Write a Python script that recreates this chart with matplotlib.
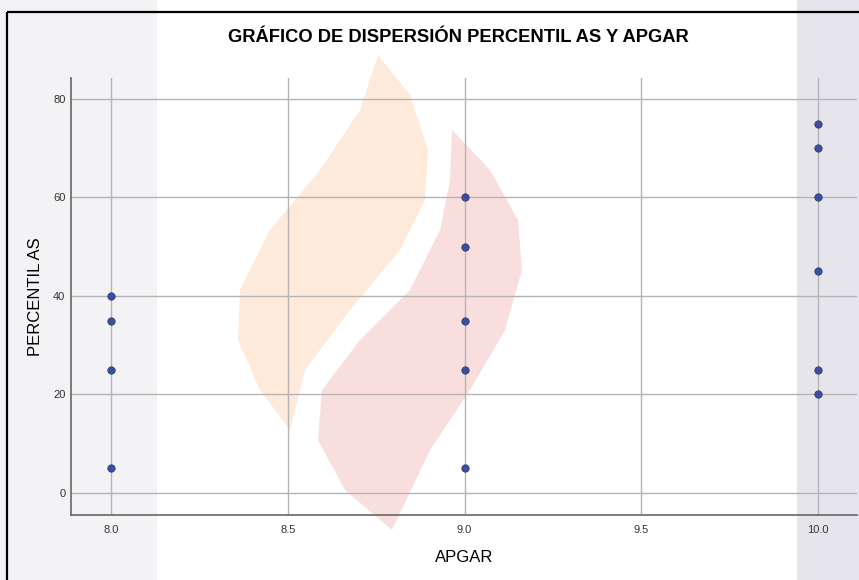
import numpy as np
import matplotlib.pyplot as plt
from matplotlib.patches import Rectangle, Polygon

# data
apgar = [8, 8, 8, 8,
         9, 9, 9, 9, 9,
         10, 10, 10, 10, 10, 10]
percentil_as = [5, 25, 35, 40,
                5, 25, 35, 50, 60,
                20, 25, 45, 60, 70, 75]

x_ticks = [8.0, 8.5, 9.0, 9.5, 10.0]
y_ticks = [0, 20, 40, 60, 80]

title = 'GRÁFICO DE DISPERSIÓN PERCENTIL AS Y APGAR'
x_label = 'APGAR'
y_label = 'PERCENTIL AS'

W, H = 859, 580
plt.rcParams['font.family'] = ['Liberation Sans', 'DejaVu Sans']

fig = plt.figure(figsize=(W / 100, H / 100), dpi=100)
fig.patch.set_facecolor('white')

# background layer in pixel coords (top-left origin) for the faint watermark
bg = fig.add_axes([0, 0, 1, 1], zorder=-1)
bg.set_xlim(0, W)
bg.set_ylim(H, 0)
bg.axis('off')

bg.add_patch(Rectangle((0, 0), 157, H, facecolor='#f3f3f6', edgecolor='none'))
bg.add_patch(Rectangle((797, 0), 62, H, facecolor='#e6e5ec', edgecolor='none'))
orange = [(378, 55), (410, 95), (428, 150), (425, 200), (400, 250), (350, 310),
          (305, 370), (290, 430), (260, 390), (238, 340), (240, 290), (270, 230),
          (320, 170), (360, 110)]
red = [(452, 130), (490, 170), (518, 220), (522, 270), (505, 330), (470, 390),
       (430, 450), (392, 530), (345, 490), (318, 440), (322, 390), (360, 340),
       (410, 290), (440, 230), (450, 180)]
bg.add_patch(Polygon(orange, closed=True, facecolor='#fdeadb', edgecolor='none'))
bg.add_patch(Polygon(red, closed=True, facecolor='#f9dede', edgecolor='none'))

# outer frame
bg.add_patch(Rectangle((7, 12), W, H, fill=False, edgecolor='black',
                       linewidth=1.6))

ax = fig.add_axes([71 / W, 65 / H, 786 / W, 437 / H], zorder=1)
ax.set_facecolor('none')

ax.scatter(apgar, percentil_as, s=28, color='#3d4f9c', edgecolors='#2e3a78',
           linewidths=0.6, zorder=3)

ax.set_xlim(7.887, 10.11)
ax.set_ylim(-4.47, 84.26)
ax.set_xticks(x_ticks)
ax.set_xticklabels([f'{v:.1f}' for v in x_ticks])
ax.set_yticks(y_ticks)
ax.tick_params(length=0, labelsize=8, colors='#333333', pad=4)
ax.tick_params(axis='x', pad=7)
ax.grid(True, color='#b4b4b4', linewidth=1)
ax.set_axisbelow(True)

for side in ['top', 'right']:
    ax.spines[side].set_visible(False)
for side in ['left', 'bottom']:
    ax.spines[side].set_color('#666666')
    ax.spines[side].set_linewidth(1.2)

ax.set_xlabel(x_label, fontsize=12, labelpad=11)
ax.set_ylabel(y_label, fontsize=12, labelpad=7)
fig.text(458 / W, 1 - 37 / H, title, fontsize=13.2, fontweight='bold',
         ha='center', va='center')

fig.savefig('out.png', dpi=100)
